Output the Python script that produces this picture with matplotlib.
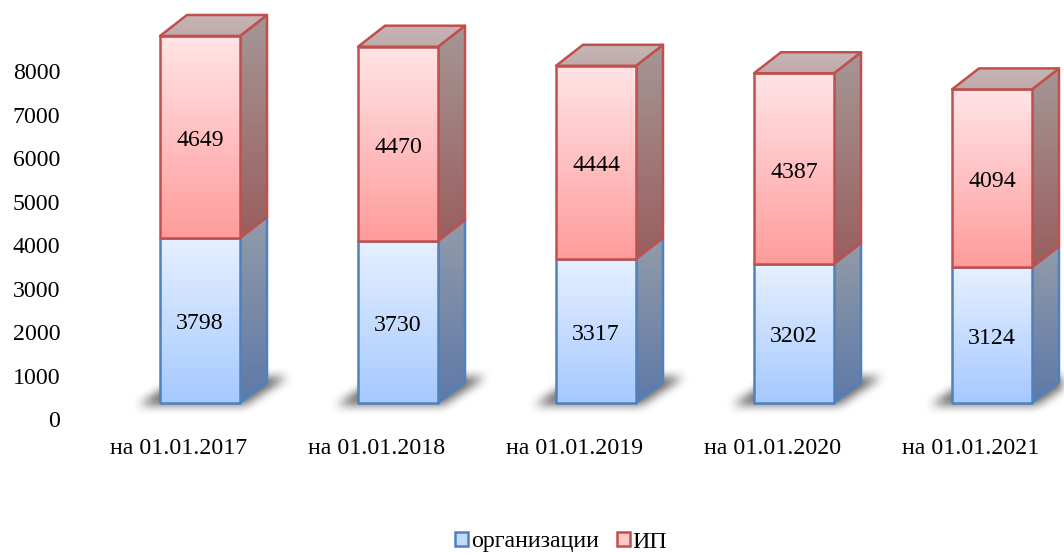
import numpy as np
import matplotlib.pyplot as plt
from matplotlib.colors import to_rgb
from matplotlib.patches import Patch, Polygon
from matplotlib.transforms import ScaledTranslation

plt.rcParams['font.family'] = ['Liberation Serif', 'DejaVu Serif']

# --- data ---
dates = ["на 01.01.2017", "на 01.01.2018", "на 01.01.2019", "на 01.01.2020", "на 01.01.2021"]
org = [3798, 3730, 3317, 3202, 3124]
ip = [4649, 4470, 4444, 4387, 4094]
yticks = [0, 1000, 2000, 3000, 4000, 5000, 6000, 7000, 8000]

# --- layout, in pixels of the 1064x553 picture ---
W, H = 1064, 553
px_left, px_bottom = 66, 432
base_px, per_unit = 403, 0.04345
step_px, first_px, bar_px = 198, 200, 80
depth_px, rise_px = 27, 21
dx = depth_px / step_px
dy = rise_px / per_unit
bw = bar_px / step_px
fs = 17.2

fig = plt.figure(figsize=(W / 100, H / 100), dpi=100)
ax = fig.add_axes([px_left / W, 1 - px_bottom / H, 1 - px_left / W, px_bottom / H])
xlim = ((px_left - first_px) / step_px, (W - first_px) / step_px)
ylim = ((base_px - px_bottom) / per_unit, base_px / per_unit)


def grad_poly(pts, top, bottom, edge, z):
    pts = np.array(pts)
    x0, x1 = pts[:, 0].min(), pts[:, 0].max()
    y0, y1 = pts[:, 1].min(), pts[:, 1].max()
    t = np.linspace(0, 1, 64)[:, None, None]
    img = np.array(to_rgb(top))[None, None, :] * (1 - t) + np.array(to_rgb(bottom))[None, None, :] * t
    im = ax.imshow(img, extent=(x0, x1, y0, y1), origin='upper', aspect='auto',
                   interpolation='bilinear', zorder=z)
    p = Polygon(pts, closed=True, fc='none', ec=edge, lw=1.8, joinstyle='round', zorder=z + 0.1)
    ax.add_patch(p)
    im.set_clip_path(p)


def shadow(c):
    # soft ground shadow behind a bar base
    xs = np.arange(xlim[0], xlim[1], 1 / step_px)
    ys = np.arange(-40 / per_unit, 45 / per_unit, 1 / per_unit)
    gx, gy = np.meshgrid(xs, ys)
    u = gx - gy * per_unit * 40 / 26 / step_px
    mask = ((u > c - 58 / step_px) & (u < c + 48 / step_px) & (gy > -2 / per_unit) & (gy < 26 / per_unit)).astype(float)
    kern = np.ones(11) / 11
    for _ in range(2):
        mask = np.apply_along_axis(lambda r: np.convolve(r, kern, mode='same'), 1, mask)
        mask = np.apply_along_axis(lambda r: np.convolve(r, kern, mode='same'), 0, mask)
    rgba = np.zeros(mask.shape + (4,))
    rgba[..., :3] = 0.25
    rgba[..., 3] = mask * 0.8
    ax.imshow(rgba, extent=(xs[0], xs[-1], ys[0], ys[-1]), origin='lower', aspect='auto',
              interpolation='bilinear', zorder=1)


for i, (a, b) in enumerate(zip(org, ip)):
    l, r = i - bw / 2, i + bw / 2
    shadow(i)
    # organisations
    grad_poly([(r, 0), (r + dx, dy), (r + dx, a + dy), (r, a)], '#929BA8', '#5E79A8', '#4F81BD', 2)
    grad_poly([(l, 0), (r, 0), (r, a), (l, a)], '#E6F0FF', '#A6C9FF', '#4F81BD', 3)
    # IP
    t = a + b
    grad_poly([(r, a), (r + dx, a + dy), (r + dx, t + dy), (r, t)], '#A69696', '#9A5E5E', '#C0504D', 4)
    grad_poly([(l, a), (r, a), (r, t), (l, t)], '#FFE4E6', '#FF9C9C', '#C0504D', 5)
    grad_poly([(l, t), (r, t), (r + dx, t + dy), (l + dx, t + dy)], '#C6B4B4', '#C0ABAB', '#C0504D', 6)
    ax.text(i, a / 2 - 3.5 / per_unit, str(a), ha='center', va='center', fontsize=fs, zorder=8)
    ax.text(i, a + b / 2 - 3.5 / per_unit, str(b), ha='center', va='center', fontsize=fs, zorder=8)

ax.set_xlim(xlim)
ax.set_ylim(ylim)
ax.set_yticks(yticks)
ax.set_xticks(range(len(dates)))
ax.set_xticklabels(dates)
ax.tick_params(length=0, labelsize=fs)
ax.tick_params(axis='y', pad=4)
ax.tick_params(axis='x', pad=4)
for s in ax.spines.values():
    s.set_visible(False)
ax.patch.set_visible(False)

# labels sit lower and further left than the bars, as in a 3D chart
off_y = ScaledTranslation(0, -16 / 100, fig.dpi_scale_trans)
off_x = ScaledTranslation(-21 / 100, 0, fig.dpi_scale_trans)
for lab in ax.get_yticklabels():
    lab.set_transform(lab.get_transform() + off_y)
for lab in ax.get_xticklabels():
    lab.set_transform(lab.get_transform() + off_x)

handles = [Patch(fc='#C3DAFF', ec='#4F81BD', lw=1.8, label='организации'),
           Patch(fc='#FFC9C9', ec='#C0504D', lw=1.8, label='ИП')]
fig.legend(handles=handles, loc='center', bbox_to_anchor=(561 / W, 1 - 542 / H), ncol=2, frameon=False,
           fontsize=fs, handlelength=0.55, handleheight=0.55, handletextpad=0.12, columnspacing=0.75,
           borderpad=0, borderaxespad=0)

fig.savefig('out.png', dpi=100)
